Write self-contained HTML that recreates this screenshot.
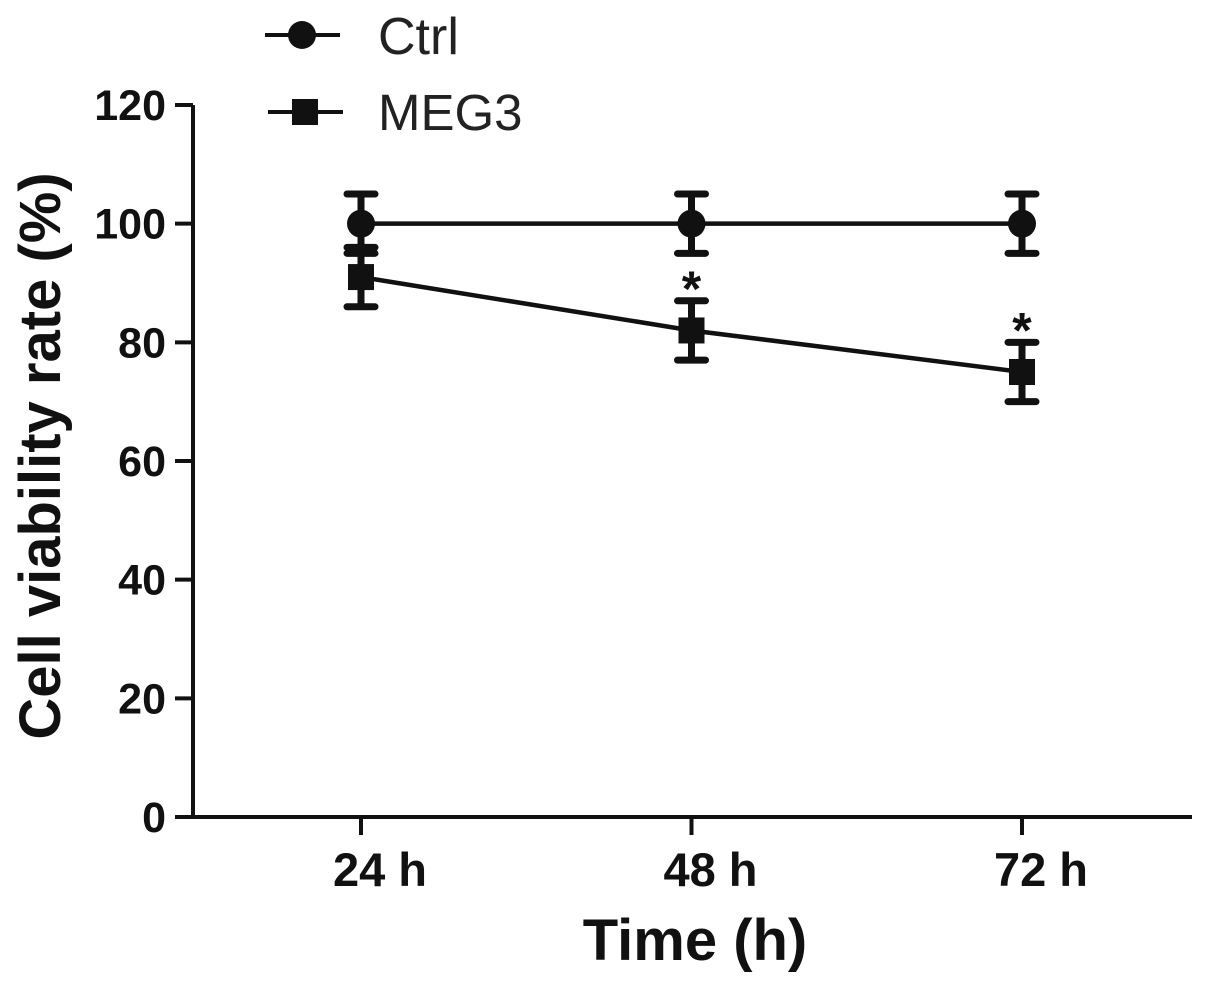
<!DOCTYPE html>
<html><head><meta charset="utf-8"><style>
body{margin:0;background:#fff}
svg{display:block;font-family:"Liberation Sans",Arial,sans-serif}
</style></head><body>
<svg id="chart" width="1205" height="985" viewBox="0 0 1205 985">
<g id="axes"></g><g id="series"></g>
<g>
 <g>
  <line x1="265" y1="35" x2="340" y2="35" stroke="#111" stroke-width="4"/>
  <circle cx="302" cy="35" r="14" fill="#111"/>
  <text x="378" y="54" font-size="52" fill="#222">Ctrl</text>
 </g>
 <g>
  <line x1="268" y1="112" x2="343" y2="112" stroke="#111" stroke-width="4"/>
  <rect x="292" y="99" width="26" height="26" fill="#111"/>
  <text x="378" y="130" font-size="51" fill="#222">MEG3</text>
 </g>
</g>
<text x="695" y="960" font-size="58" font-weight="bold" text-anchor="middle" fill="#111">Time (h)</text>
<text transform="translate(60,456) rotate(-90)" font-size="58" font-weight="bold" text-anchor="middle" fill="#111">Cell viability rate (%)</text>
</svg>
<script>
const categories=["24 h","48 h","72 h"];
const ctrlValues=[100,100,100];
const ctrlErrors=[5,5,5];
const megValues=[91,82,75];
const megErrors=[5,5,5];
const significant=[false,true,true];
const yTicks=[0,20,40,60,80,100,120];
const NS="http://www.w3.org/2000/svg";
const X0=193,X1=1192,Y0=817,Y120=105;
const xPos=[361,692,1022];
function xs(i){return xPos[0]+(xPos[2]-xPos[0])*i/(categories.length-1);}
function ys(v){return Y0-(Y0-Y120)*v/120;}
function mk(tag,attrs,parent){const e=document.createElementNS(NS,tag);for(const k in attrs)e.setAttribute(k,attrs[k]);parent.appendChild(e);return e;}
const axes=document.getElementById('axes'),series=document.getElementById('series');
let a=mk('line',{x1:X0,y1:Y120,x2:X0,y2:Y0,stroke:'#111','stroke-width':4},axes);


a=mk('line',{x1:X0-2,y1:Y0,x2:X1,y2:Y0,stroke:'#111','stroke-width':4},axes);


yTicks.forEach(t=>{
 const l=mk('line',{x1:175,y1:ys(t),x2:X0,y2:ys(t),stroke:'#111','stroke-width':4},axes);
 
 
 const tx=mk('text',{x:166,y:ys(t)+15,'font-size':43,'font-weight':'bold','text-anchor':'end',fill:'#111'},axes);
 tx.textContent=t;
 
 
});
categories.forEach((c,i)=>{
 const l=mk('line',{x1:xs(i),y1:Y0,x2:xs(i),y2:835,stroke:'#111','stroke-width':4},axes);
 
 
 const tx=mk('text',{x:xs(i)+19,y:886,'font-size':47,'font-weight':'bold','text-anchor':'middle',fill:'#111'},axes);
 tx.textContent=c;
 
 
});
function drawSeries(vals,errs,name,shape){
 const g=mk('g',{},series);
 
 
 const pl=mk('polyline',{points:vals.map((v,i)=>xs(i)+','+ys(v)).join(' '),fill:'none',stroke:'#111','stroke-width':4.5},g);
 
 
 vals.forEach((v,i)=>{
  const x=xs(i),yt=ys(v+errs[i]),yb=ys(v-errs[i]);
  const e=mk('path',{d:`M${x},${yt}V${yb}M${x-14},${yt}H${x+14}M${x-14},${yb}H${x+14}`,stroke:'#111','stroke-width':7,'stroke-linecap':'round',fill:'none'},g);
  
  
  let m;
  if(shape==='circle')m=mk('circle',{cx:x,cy:ys(v),r:14,fill:'#111'},g);
  else m=mk('rect',{x:x-13,y:ys(v)-13,width:26,height:26,fill:'#111'},g);
  
  
 });
}
drawSeries(ctrlValues,ctrlErrors,'ctrl','circle');
drawSeries(megValues,megErrors,'meg3','square');
significant.forEach((s,i)=>{
 if(!s)return;
 const t=mk('text',{x:xs(i),y:ys(megValues[i]+megErrors[i])+5,'font-size':50,'font-weight':'bold','text-anchor':'middle',fill:'#111'},series);
 t.textContent='*';
 
 
});
</script>
</body></html>
